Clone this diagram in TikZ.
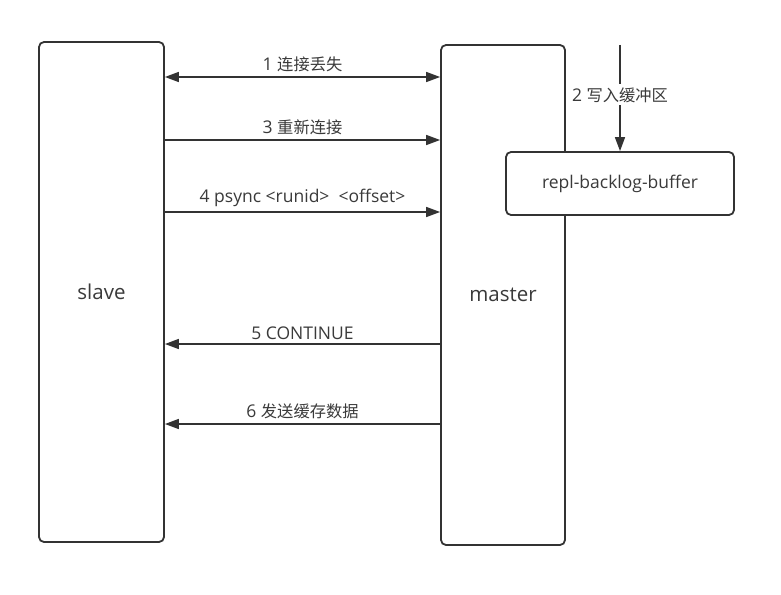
\documentclass[tikz,border=0pt]{standalone}
\usepackage{fontspec}
\setmainfont{Open Sans}
\newfontfamily\cjkfont[Scale=0.93]{Noto Sans CJK SC}
\newcommand{\zh}[1]{{\cjkfont #1}}
\usetikzlibrary{arrows.meta, calc}
\definecolor{linegray}{HTML}{333333}
\definecolor{textgray}{HTML}{3A3A3A}
\tikzset{
    box/.style={draw=linegray, line width=1.8pt, rounded corners=5pt, fill=white, text=textgray, font=\fontsize{20.5}{23}\selectfont},
    msg/.style={draw=linegray, line width=1.6pt, -{Triangle[length=14pt,width=10pt]}},
    lbl/.style={text=textgray, font=\fontsize{17.5}{20}\selectfont, inner sep=1pt}
}
\begin{document}
\begin{tikzpicture}[x=1pt, y=-1pt]

% --- Rahmen ---
\useasboundingbox (0,0) rectangle (781,594);
\fill[white] (0,0) rectangle (781,594);

% --- Boxen ---
\node[box, minimum width=125pt, minimum height=500pt] (slave) at (101.5,292) {slave};
\node[box, minimum width=124pt, minimum height=500pt] (master) at (503,295) {master};
\node[box, minimum width=228pt, minimum height=63pt, font=\fontsize{17.5}{20}\selectfont] (buffer) at (620,183.5) {repl-backlog-buffer};

% --- Schreiben in den Puffer ---
\coordinate (top) at (620,45);
\draw[msg] (top) -- (buffer.north)
    node[lbl, pos=0.47, fill=white, inner sep=3pt] {2 \zh{写入缓冲区}};

% --- Nachrichten slave -> master ---
\draw[msg, {Triangle[length=14pt,width=10pt]}-{Triangle[length=14pt,width=10pt]}]
    (slave.east |- 0,77) -- (master.west |- 0,77)
    node[lbl, midway, above=3pt] {1 \zh{连接丢失}};
\draw[msg] (slave.east |- 0,140) -- (master.west |- 0,140)
    node[lbl, midway, above=3pt] {3 \zh{重新连接}};
\draw[msg] (slave.east |- 0,212) -- (master.west |- 0,212)
    node[lbl, midway, above=3pt] {4 psync <runid>~ <offset>};

% --- Antworten master -> slave ---
\draw[msg] (master.west |- 0,344) -- (slave.east |- 0,344)
    node[lbl, midway, above=3pt] {5 CONTINUE};
\draw[msg] (master.west |- 0,424) -- (slave.east |- 0,424)
    node[lbl, midway, above=3pt] {6 \zh{发送缓存数据}};

\end{tikzpicture}
\end{document}
